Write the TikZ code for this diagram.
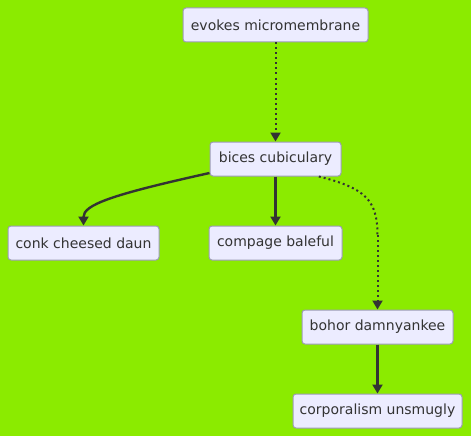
\documentclass[tikz,border=0pt]{standalone}
\usepackage{fontspec}
\setmainfont{DejaVu Sans}
\usetikzlibrary{arrows.meta}
\definecolor{bgreen}{HTML}{8BEB00}
\definecolor{boxfill}{HTML}{ECECFF}
\definecolor{boxline}{HTML}{9C9CB4}
\definecolor{edge}{HTML}{333333}
\tikzset{
  flowbox/.style = {rectangle, rounded corners=3pt, fill=boxfill, draw=boxline,
                    line width=1pt, minimum height=34pt, minimum width=#1,
                    inner sep=0pt, font=\fontsize{14}{16}\selectfont, text=edge},
  flowbox/.default = 130pt,
  link/.style = {draw=edge, line width=2.4pt, -{Triangle[length=9pt,width=10pt]}},
  dotlink/.style = {draw=edge, line width=2pt, dash pattern=on 2pt off 3pt,
                    -{Triangle[length=9pt,width=10pt]}}
}
\begin{document}
\begin{tikzpicture}[x=1pt,y=-1pt]
	\fill[bgreen] (0,0) rectangle (471,436);
	\useasboundingbox (0,0) rectangle (471,436);

	% Boxes
	\node[flowbox=185pt] (evokes)   at (275.5,25)  {evokes micromembrane};
	\node[flowbox=131pt] (bices)    at (275.5,159) {bices cubiculary};
	\node[flowbox=151pt] (conk)     at (83.5,243)  {conk cheesed daun};
	\node[flowbox=133pt] (compage)  at (275.5,243) {compage baleful};
	\node[flowbox=151pt] (bohor)    at (377.5,327) {bohor damnyankee};
	\node[flowbox=169pt] (corpo)    at (377.5,411) {corporalism unsmugly};

	% Links
	\draw[dotlink] (evokes) -- (bices);
	\draw[link] (bices.192) .. controls (110,195) and (83.5,205) .. (conk.north);
	\draw[link] (bices) -- (compage);
	\draw[dotlink, -] (bices.-22) .. controls (365,188) and (377.5,200) .. (377.5,235) coordinate (bend);
	\draw[dotlink] (bend) -- (bohor.north);
	\draw[link] (bohor) -- (corpo);
\end{tikzpicture}
\end{document}
